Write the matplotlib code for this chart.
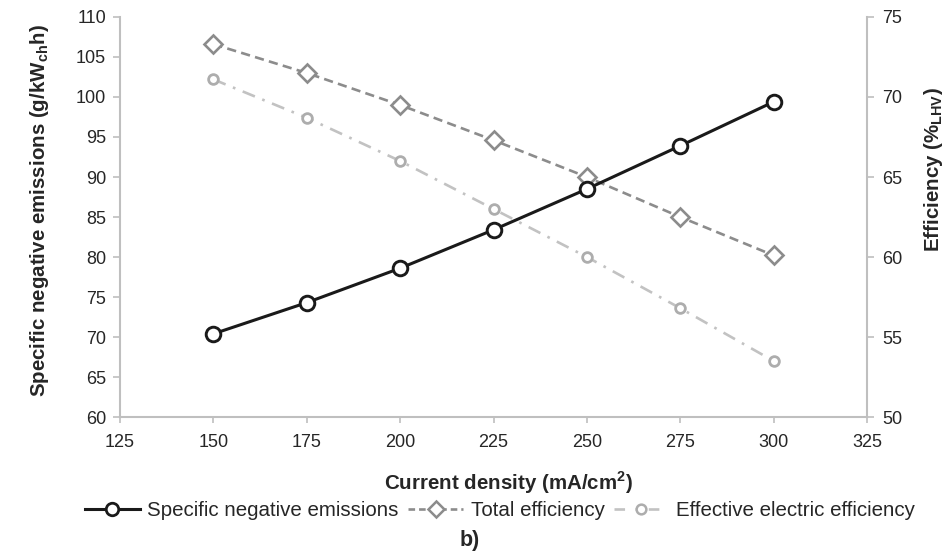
import matplotlib
matplotlib.use("Agg")
import matplotlib.pyplot as plt
from matplotlib.lines import Line2D

plt.rcParams['font.family'] = ['Liberation Sans', 'DejaVu Sans']

current_density = [150, 175, 200, 225, 250, 275, 300]
specific_emissions = [70.4, 74.3, 78.6, 83.4, 88.5, 93.9, 99.4]
total_efficiency = [73.3, 71.5, 69.5, 67.3, 65.0, 62.5, 60.1]
effective_electric_eff = [71.1, 68.7, 66.0, 63.0, 60.0, 56.8, 53.5]

x_ticks = [125, 150, 175, 200, 225, 250, 275, 300, 325]
left_ticks = [60, 65, 70, 75, 80, 85, 90, 95, 100, 105, 110]
right_ticks = [50, 55, 60, 65, 70, 75]

spine_c = '#bfbfbf'
text_c = '#262626'
black_c = '#1a1a1a'
dia_c = '#8c8c8c'
circ_edge = '#adadad'
circ_line = '#c2c2c2'

fig = plt.figure(figsize=(9.45, 5.57), dpi=100)
ax = fig.add_axes([0.127, 0.2513, 0.7905, 0.7182])
ax2 = ax.twinx()

ax.set_xlim(125, 325)
ax.set_ylim(60, 110)
ax2.set_ylim(50, 75)
ax.set_xticks(x_ticks)
ax.set_yticks(left_ticks)
ax2.set_yticks(right_ticks)

for a in (ax, ax2):
    a.spines['top'].set_visible(False)
    for s in ('left', 'right', 'bottom'):
        a.spines[s].set_color(spine_c)
        a.spines[s].set_linewidth(1.5)
    a.tick_params(colors=spine_c, labelcolor=text_c, labelsize=13, length=5, width=1.2, direction='out')
ax.spines['right'].set_visible(False)
ax2.spines['left'].set_visible(False)
ax2.spines['bottom'].set_visible(False)
ax.tick_params(axis='x', length=4, pad=8)
ax.tick_params(axis='y', pad=5)
ax2.tick_params(axis='y', pad=6)

ax2.plot(current_density, effective_electric_eff, color=circ_line, lw=1.9, dashes=(5, 3, 1, 3),
         marker='o', ms=7, mfc='white', mec=circ_edge, mew=2, zorder=2)
ax2.plot(current_density, total_efficiency, color=dia_c, lw=1.9, dashes=(3.5, 2),
         marker='D', ms=9.5, mfc='white', mec=dia_c, mew=1.9, zorder=3)
ax2.set_zorder(1)
ax.set_zorder(2)
ax.patch.set_visible(False)
ax.plot(current_density, specific_emissions, color=black_c, lw=2.2,
        marker='o', ms=10.5, mfc='white', mec=black_c, mew=2.1, zorder=4)

ax.set_ylabel('Specific negative emissions (g/kW$_{\\mathregular{ch}}$h)', fontsize=14.8,
              fontweight='bold', color=text_c)
ax.yaxis.set_label_coords(-0.093, 0.515)
ax2.set_ylabel('Efficiency (%$_{\\mathregular{LHV}}$)', fontsize=14.8, fontweight='bold',
               color=text_c)
ax2.yaxis.set_label_coords(1.074, 0.6175)
ax.set_xlabel('Current density (mA/cm$^{\\mathregular{2}}$)', fontsize=14.8, fontweight='bold',
              color=text_c)
ax.xaxis.set_label_coords(0.52, -0.13)

h1 = Line2D([], [], color=black_c, lw=2.2, marker='o', ms=9, mfc='white', mec=black_c, mew=2)
h2 = Line2D([], [], color=dia_c, lw=1.9, dashes=(2.5, 1.5), marker='D', ms=8.5, mfc='white', mec=dia_c, mew=1.8)
h3 = Line2D([], [], color=circ_line, lw=1.9, dashes=(4, 4, 1, 4), marker='o', ms=7, mfc='white', mec=circ_edge, mew=1.8)
fig.legend([h1, h2, h3], ['Specific negative emissions', 'Total efficiency', 'Effective electric efficiency'],
           loc='center', bbox_to_anchor=(0.529, 0.084), ncol=3, frameon=False, fontsize=14.8,
           handlelength=2.7, handletextpad=0.35, columnspacing=0.45, labelcolor=text_c,
           borderpad=0, borderaxespad=0)

fig.text(0.497, 0.03, 'b)', ha='center', va='center', fontsize=15.5, fontweight='bold', color=text_c)

fig.savefig('out.png', dpi=100)
